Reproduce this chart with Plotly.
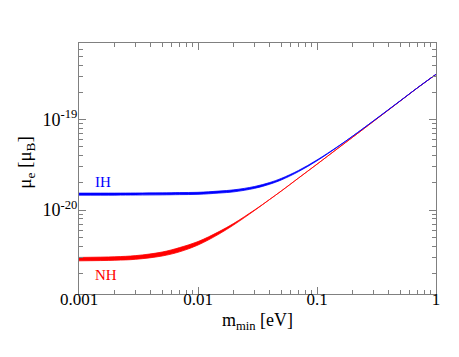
import plotly.graph_objects as go

# m_min [eV]
m_min = [0.001, 0.002, 0.003, 0.005, 0.007, 0.01, 0.015, 0.02, 0.03, 0.04,
         0.05, 0.07, 0.1, 0.15, 0.2, 0.3, 0.5, 0.7, 1.0]

# mu_e band edges, in units of 1e-21 mu_B
nh_low = [2.75, 2.79, 2.86, 3.11, 3.46, 4.11, 5.43, 6.87, 9.94, 13.1,
          16.2, 22.6, 32.1, 48.1, 64.0, 96.0, 160.0, 224.0, 315.0]
nh_high = [3.00, 3.05, 3.14, 3.44, 3.85, 4.49, 5.78, 7.13, 10.06, 13.1,
           16.2, 22.6, 32.1, 48.1, 64.0, 96.0, 160.0, 224.0, 315.0]
ih_low = [14.62, 14.62, 14.66, 14.72, 14.81, 14.91, 15.40, 15.89, 17.38, 19.28,
          21.47, 26.6, 35.05, 50.1, 65.7, 97.2, 160.7, 224.5, 316.0]
ih_high = [15.39, 15.39, 15.43, 15.49, 15.60, 15.70, 16.21, 16.72, 18.23, 20.13,
           22.34, 27.4, 35.75, 50.5, 65.7, 97.2, 160.7, 224.5, 316.0]

bands = [
    ("NH", nh_low, nh_high, "#ff0000"),
    ("IH", ih_low, ih_high, "#0000ff"),
]

fig = go.Figure()
for name, lo, hi, col in bands:
    xs = m_min + m_min[::-1]
    ys = [v * 1e-21 for v in lo] + [v * 1e-21 for v in hi[::-1]]
    fig.add_trace(go.Scatter(x=xs, y=ys, mode="lines", fill="toself",
                             fillcolor=col, line=dict(color=col, width=0.8, shape="spline"),
                             name=name, showlegend=False, hoverinfo="skip"))

serif = "Liberation Serif"
grey = "#808080"

minor_x = [k * 10.0 ** e for e in (-3, -2, -1) for k in range(2, 10)]
minor_y = [k * 10.0 ** e for e in (-21, -20, -19) for k in range(2, 10)]

fig.update_xaxes(type="log", range=[-3, 0],
                 tickvals=[0.001, 0.01, 0.1, 1], ticktext=["0.001", "0.01", "0.1", "1"],
                 ticks="inside", ticklen=7, tickcolor=grey, tickwidth=1,
                 minor=dict(ticks="inside", ticklen=4, tickcolor=grey, showgrid=False,
                            tickvals=minor_x),
                 showline=True, linecolor=grey, linewidth=1, mirror="ticks",
                 showgrid=False, zeroline=False, ticklabelstandoff=-10,
                 tickfont=dict(family=serif, size=17, color="black"))
fig.update_yaxes(type="log", range=[-20.927, -18.155],
                 tickvals=[1e-20, 1e-19], ticktext=["10<sup>-20</sup>", "10<sup>-19</sup>"],
                 ticks="inside", ticklen=7, tickcolor=grey, tickwidth=1,
                 minor=dict(ticks="inside", ticklen=4, tickcolor=grey, showgrid=False,
                            tickvals=minor_y),
                 showline=True, linecolor=grey, linewidth=1, mirror="ticks",
                 showgrid=False, zeroline=False, ticklabelstandoff=-3,
                 tickfont=dict(family=serif, size=18, color="black"))

# axis titles
fig.add_annotation(xref="paper", yref="paper", x=0.5, y=-0.11, yanchor="middle",
                   text="m<sub>min</sub> [eV]", showarrow=False,
                   font=dict(family=serif, size=18, color="black"))
fig.add_annotation(xref="paper", yref="paper", x=-0.147, y=0.525, xanchor="center",
                   yanchor="middle", textangle=-90,
                   text="\u03bc<sub>e</sub> [\u03bc<sub>B</sub>]", showarrow=False,
                   font=dict(family=serif, size=19, color="black"))

fig.add_annotation(x=-2.80, y=-19.695, text="IH", showarrow=False,
                   font=dict(family=serif, size=15, color="#0000ff"))
fig.add_annotation(x=-2.777, y=-20.72, text="NH", showarrow=False,
                   font=dict(family=serif, size=15, color="#ff0000"))

fig.update_layout(width=459, height=357, margin=dict(l=71, r=31, t=35, b=71),
                  plot_bgcolor="white", paper_bgcolor="white")
fig.write_html("out.html")
